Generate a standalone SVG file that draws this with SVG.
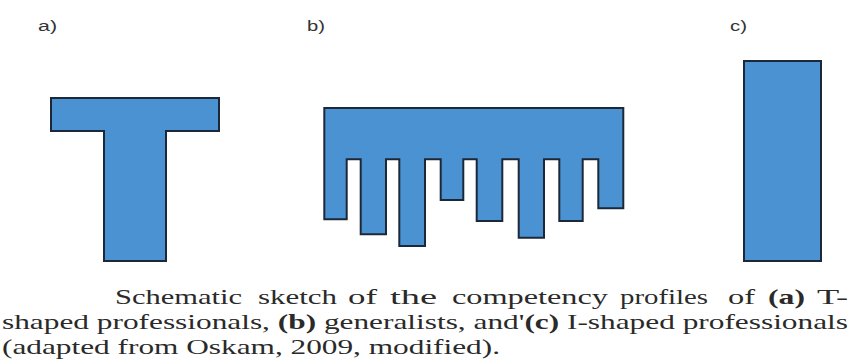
<svg xmlns="http://www.w3.org/2000/svg" width="854" height="363" viewBox="0 0 854 363">
  <style>
    .shape { fill: #4a92d2; stroke: #1c2838; stroke-width: 2; stroke-linejoin: miter; }
    .lbl { font-family: "Liberation Sans", Arial, sans-serif; font-size: 14px; fill: #333; }
    .cap { font-family: "Liberation Serif", "Times New Roman", serif; font-size: 22px; fill: #2a2a2a; }
    .b { font-weight: bold; }
  </style>
  <rect width="854" height="363" fill="#ffffff"/>
  <g id="node-a">
    <text class="lbl" x="38" y="31" textLength="19" lengthAdjust="spacingAndGlyphs">a)</text>
    <path class="shape" d="M51,98 H219 V131 H166 V261 H104 V131 H51 Z"/>
  </g>
  <g id="node-b">
    <text class="lbl" x="307" y="31" textLength="18" lengthAdjust="spacingAndGlyphs">b)</text>
    <path class="shape" d="M324.3,108 H623.3 V208.3 H598.3 V159.3 H582.7 V221 H559.3 V159.3 H544 V237.7 H518.7 V159.3 H502.3 V221 H476.7 V159.3 H463.3 V200 H440.7 V159.3 H425 V246 H399.3 V159.3 H386 V234.3 H360.7 V159.3 H346.7 V219.3 H324.3 Z"/>
  </g>
  <g id="node-c">
    <text class="lbl" x="730" y="31" textLength="17" lengthAdjust="spacingAndGlyphs">c)</text>
    <rect class="shape" x="744" y="61" width="77" height="200"/>
  </g>
  <g id="caption">
    <text class="cap" x="115" y="304" textLength="127" lengthAdjust="spacingAndGlyphs">Schematic</text>
    <text class="cap" x="258" y="304" textLength="79" lengthAdjust="spacingAndGlyphs">sketch</text>
    <text class="cap" x="348" y="304" textLength="29" lengthAdjust="spacingAndGlyphs">of</text>
    <text class="cap" x="390" y="304" textLength="47" lengthAdjust="spacingAndGlyphs">the</text>
    <text class="cap" x="452" y="304" textLength="156" lengthAdjust="spacingAndGlyphs">competency</text>
    <text class="cap" x="620" y="304" textLength="88" lengthAdjust="spacingAndGlyphs">profiles</text>
    <text class="cap" x="728" y="304" textLength="27" lengthAdjust="spacingAndGlyphs">of</text>
    <text class="cap b" x="768" y="304" textLength="37" lengthAdjust="spacingAndGlyphs">(a)</text>
    <text class="cap" x="817" y="304" textLength="31" lengthAdjust="spacingAndGlyphs">T-</text>
    <text class="cap" x="2" y="329" textLength="846" lengthAdjust="spacingAndGlyphs">shaped professionals, <tspan class="b">(b)</tspan> generalists, and'<tspan class="b">(c)</tspan> I-shaped professionals</text>
    <text class="cap" x="2" y="354" textLength="498" lengthAdjust="spacingAndGlyphs">(adapted from Oskam, 2009, modified).</text>
  </g>
</svg>
